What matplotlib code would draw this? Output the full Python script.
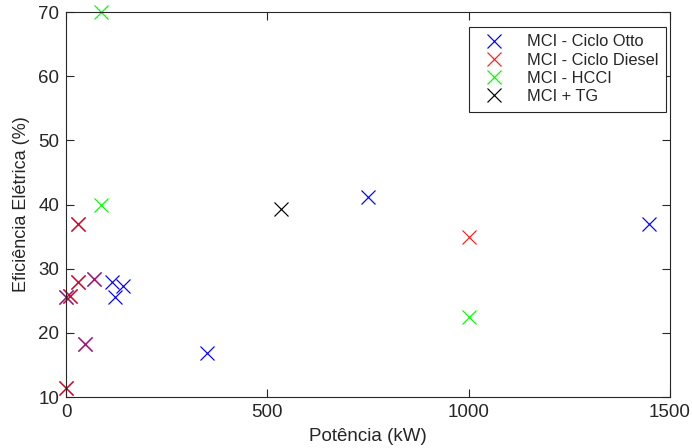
import matplotlib.pyplot as plt

plt.rcParams['font.family'] = ['Liberation Sans', 'DejaVu Sans']

# Dados (potência em kW, eficiência elétrica em %)
otto_x = [750, 1448, 349, 113, 142, 122, 0, 10, 30, 29, 70, 46, 0]
otto_y = [41.2, 36.9, 16.8, 28.0, 27.3, 25.6, 25.6, 25.8, 36.9, 28.0, 28.4, 18.2, 11.4]

diesel_x = [1000, 0, 10, 30, 29, 70, 46, 0]
diesel_y = [35.0, 25.6, 25.8, 36.9, 28.0, 28.4, 18.2, 11.4]

hcci_x = [87, 87, 1000]
hcci_y = [70.0, 40.0, 22.5]

tg_x = [534]
tg_y = [39.3]

cor_eixo = '#262626'

fig = plt.figure(figsize=(6.92, 4.48), dpi=100)
ax = fig.add_axes([0.0954, 0.1138, 0.8728, 0.8594])

ms = 10
lw = 0.85
ax.plot(otto_x, otto_y, 'x', color='#0000ff', ms=ms, mew=lw, clip_on=False, label='MCI - Ciclo Otto')
ax.plot(diesel_x, diesel_y, 'x', color='#ff0000', alpha=0.88, ms=ms, mew=lw, clip_on=False, label='MCI - Ciclo Diesel')
ax.plot(hcci_x, hcci_y, 'x', color='#00ff00', ms=ms, mew=lw, clip_on=False, label='MCI - HCCI')
ax.plot(tg_x, tg_y, 'x', color='#000000', ms=ms, mew=lw, clip_on=False, label='MCI + TG')

ax.set_xlim(0, 1500)
ax.set_ylim(10, 70)
ax.set_xticks([0, 500, 1000, 1500])
ax.set_yticks(range(10, 71, 10))

ax.set_xlabel('Potência (kW)', fontsize=13.5, color=cor_eixo, labelpad=5)
ax.set_ylabel('Eficiência Elétrica (%)', fontsize=13, color=cor_eixo, labelpad=6)

ax.tick_params(direction='in', length=6, width=0.8, top=True, right=True,
               labelsize=13.5, colors=cor_eixo, pad=5)
for s in ax.spines.values():
    s.set_color(cor_eixo)
    s.set_linewidth(0.8)

leg = ax.legend(loc='upper right', bbox_to_anchor=(0.993, 0.961), borderaxespad=0,
                fontsize=11.8, fancybox=False, framealpha=1, edgecolor=cor_eixo,
                borderpad=0.45, handlelength=2.2, handletextpad=0.9, labelspacing=0.2)
leg.get_frame().set_linewidth(0.8)
for t in leg.get_texts():
    t.set_color(cor_eixo)

fig.savefig('out.png', dpi=100)
